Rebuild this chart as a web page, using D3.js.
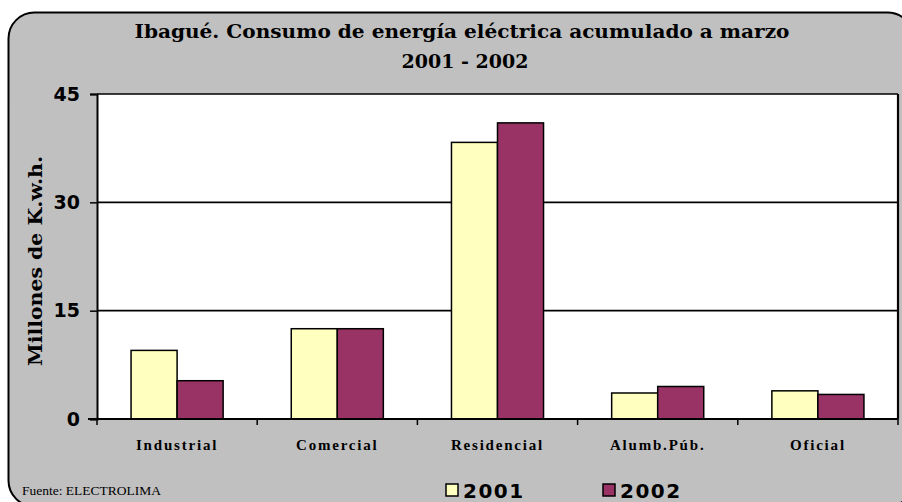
<!DOCTYPE html>
<html>
<head>
<meta charset="utf-8">
<script src="https://cdn.jsdelivr.net/npm/d3@7"></script>
<style>
  html, body { margin: 0; padding: 0; background: #ffffff; }
  svg { display: block; }
</style>
</head>
<body>
<svg id="chart" width="902" height="502"></svg>
<script>
// Electricity consumption in Ibagué, accumulated to March (millions of kWh)
const categories = ["Industrial", "Comercial", "Residencial", "Alumb.Púb.", "Oficial"];
const seriesNames = ["2001", "2002"];
const values2001 = [9.5, 12.5, 38.3, 3.6, 3.9];
const values2002 = [5.3, 12.5, 41.0, 4.5, 3.4];
const yTicks = [0, 15, 30, 45];
const seriesColors = ["#FFFFC0", "#993366"];

const titleLines = ["Ibagué. Consumo de energía eléctrica acumulado a marzo", "2001 - 2002"];
const yTitle = "Millones de K.w.h.";
const sourceNote = "Fuente: ELECTROLIMA";

const svg = d3.select("#chart");

// Grey rounded panel behind the chart (runs past the right and bottom edges)
svg.append("rect")
  .attr("x", 8.5).attr("y", 12.5)
  .attr("width", 905).attr("height", 494)
  .attr("rx", 26).attr("ry", 26)
  .attr("fill", "#C0C0C0")
  .attr("stroke", "#000").attr("stroke-width", 2);

const plot = { left: 97, right: 898, top: 94, bottom: 419 };

const x0 = d3.scaleBand().domain(categories).range([plot.left, plot.right]).padding(0);
const x1 = d3.scaleBand().domain(seriesNames).range([0, x0.bandwidth()])
  .paddingInner(0).paddingOuter(0.74);
const y = d3.scaleLinear().domain([0, 45]).range([plot.bottom, plot.top]);

// Plot area
svg.append("rect")
  .attr("x", plot.left).attr("y", plot.top)
  .attr("width", plot.right - plot.left).attr("height", plot.bottom - plot.top)
  .attr("fill", "#fff");

// Horizontal gridlines
svg.append("g").selectAll("line")
  .data(yTicks.filter(d => d > 0))
  .join("line")
  .attr("x1", plot.left).attr("x2", plot.right)
  .attr("y1", d => y(d)).attr("y2", d => y(d))
  .attr("stroke", "#000").attr("stroke-width", 1.6);

// Right border of the plot area
svg.append("line")
  .attr("x1", plot.right).attr("x2", plot.right)
  .attr("y1", plot.top).attr("y2", plot.bottom)
  .attr("stroke", "#000").attr("stroke-width", 2.2);

// Bars
const rows = categories.map((c, i) => ({ cat: c, vals: [values2001[i], values2002[i]] }));
svg.append("g").selectAll("g")
  .data(rows)
  .join("g")
  .attr("transform", d => `translate(${x0(d.cat)},0)`)
  .selectAll("rect")
  .data(d => d.vals.map((v, j) => ({ key: seriesNames[j], v, j })))
  .join("rect")
  .attr("x", d => x1(d.key))
  .attr("y", d => y(d.v))
  .attr("width", x1.bandwidth())
  .attr("height", d => y(0) - y(d.v))
  .attr("fill", d => seriesColors[d.j])
  .attr("stroke", "#000").attr("stroke-width", 1.5);

// Y axis
const yAxis = svg.append("g")
  .attr("transform", `translate(${plot.left},0)`)
  .call(d3.axisLeft(y).tickValues(yTicks).tickSize(7).tickPadding(10).tickFormat(d3.format("d")));
yAxis.select(".domain").attr("stroke", "#000").attr("stroke-width", 2);
yAxis.selectAll(".tick line").attr("stroke", "#000").attr("stroke-width", 1.5);
yAxis.selectAll(".tick text")
  .attr("fill", "#000")
  .style("font-family", "'DejaVu Sans', sans-serif")
  .style("font-weight", "bold")
  .style("font-size", "19px");

// X axis with ticks on band boundaries
const xAxisG = svg.append("g");
xAxisG.append("line")
  .attr("x1", plot.left - 9).attr("x2", plot.right)
  .attr("y1", plot.bottom).attr("y2", plot.bottom)
  .attr("stroke", "#000").attr("stroke-width", 2.2);
const boundaries = categories.map(c => x0(c)).concat([x0(categories[categories.length - 1]) + x0.bandwidth()]);
xAxisG.selectAll("line.tk")
  .data(boundaries)
  .join("line")
  .attr("class", "tk")
  .attr("x1", d => d).attr("x2", d => d)
  .attr("y1", plot.bottom).attr("y2", plot.bottom + 6)
  .attr("stroke", "#000").attr("stroke-width", 1.5);
xAxisG.selectAll("text")
  .data(categories)
  .join("text")
  .attr("x", d => x0(d) + x0.bandwidth() / 2)
  .attr("y", 450)
  .attr("text-anchor", "middle")
  .style("font-family", "'Liberation Serif', serif")
  .style("font-weight", "bold")
  .style("font-size", "15px")
  .style("letter-spacing", "1.8px")
  .text(d => d);

// Title
svg.append("text")
  .attr("x", 462).attr("y", 38)
  .attr("text-anchor", "middle")
  .attr("textLength", 655).attr("lengthAdjust", "spacingAndGlyphs")
  .style("font-family", "'DejaVu Serif', serif")
  .style("font-weight", "bold")
  .style("font-size", "18px")
  .text(titleLines[0]);
svg.append("text")
  .attr("x", 465).attr("y", 68)
  .attr("text-anchor", "middle")
  .style("font-family", "'DejaVu Serif', serif")
  .style("font-weight", "bold")
  .style("font-size", "19px")
  .text(titleLines[1]);

// Y axis title
svg.append("text")
  .attr("transform", "translate(42,261) rotate(-90)")
  .attr("text-anchor", "middle")
  .attr("textLength", 210).attr("lengthAdjust", "spacingAndGlyphs")
  .style("font-family", "'DejaVu Serif', serif")
  .style("font-weight", "bold")
  .style("font-size", "19px")
  .text(yTitle);

// Source note
svg.append("text")
  .attr("x", 22).attr("y", 495)
  .style("font-family", "'Liberation Serif', serif")
  .style("font-size", "13.5px")
  .text(sourceNote);

// Legend
const legendX = [446, 603];
const legend = svg.append("g").selectAll("g")
  .data(seriesNames)
  .join("g")
  .attr("transform", (d, i) => `translate(${legendX[i]},484)`);
legend.append("rect")
  .attr("width", 12).attr("height", 12)
  .attr("fill", (d, i) => seriesColors[i])
  .attr("stroke", "#000").attr("stroke-width", 1.5);
legend.append("text")
  .attr("x", 17).attr("y", 13.5)
  .style("font-family", "'DejaVu Sans', sans-serif")
  .style("font-weight", "bold")
  .style("font-size", "20px")
  .style("letter-spacing", "1.5px")
  .text(d => d);
</script>
</body>
</html>
